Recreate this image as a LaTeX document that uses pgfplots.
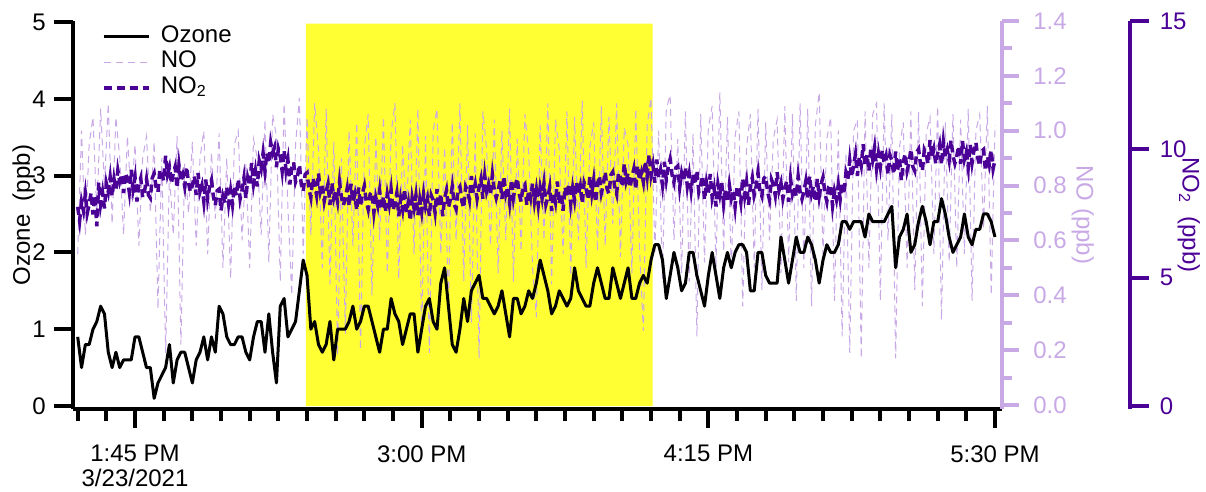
\documentclass[border=0pt]{standalone}
\usepackage{fontspec}
\setmainfont{Liberation Sans}
\usepackage{pgfplots}
\pgfplotsset{compat=1.18}
\usepackage{pgfplotstable}
\definecolor{nocol}{HTML}{C8A9E6}
\definecolor{notwo}{HTML}{4B0096}
\definecolor{hl}{HTML}{FFFF33}

\pgfplotstableread[row sep=\\]{
v\\
0.9\\0.5\\0.8\\0.8\\1.0\\1.1\\1.3\\1.2\\0.7\\0.5\\
0.7\\0.5\\0.6\\0.6\\0.6\\0.9\\0.9\\0.7\\0.5\\0.5\\
0.1\\0.3\\0.4\\0.5\\0.8\\0.3\\0.6\\0.7\\0.7\\0.5\\
0.3\\0.6\\0.7\\0.9\\0.6\\0.9\\0.7\\1.3\\1.2\\0.9\\
0.8\\0.8\\0.9\\0.9\\0.7\\0.6\\0.9\\1.1\\1.1\\0.7\\
1.2\\0.7\\0.3\\1.3\\1.4\\0.9\\1.0\\1.1\\1.5\\1.9\\
1.7\\1.0\\1.1\\0.8\\0.7\\0.8\\1.1\\0.6\\1.0\\1.0\\
1.0\\1.1\\1.3\\1.0\\1.1\\1.3\\1.3\\1.1\\0.9\\0.7\\
1.0\\1.0\\1.4\\1.2\\1.1\\0.8\\1.0\\1.2\\1.2\\0.7\\
1.0\\1.3\\1.4\\1.1\\1.0\\1.6\\1.8\\1.3\\0.8\\0.7\\
1.0\\1.4\\1.1\\1.5\\1.6\\1.7\\1.4\\1.4\\1.3\\1.2\\
1.3\\1.5\\1.2\\0.9\\1.4\\1.4\\1.2\\1.3\\1.5\\1.4\\
1.6\\1.9\\1.7\\1.5\\1.2\\1.3\\1.5\\1.4\\1.3\\1.4\\
1.8\\1.5\\1.4\\1.3\\1.3\\1.6\\1.8\\1.6\\1.4\\1.4\\
1.8\\1.6\\1.4\\1.6\\1.8\\1.4\\1.4\\1.6\\1.7\\1.6\\
1.9\\2.1\\2.1\\1.9\\1.4\\1.7\\2.0\\1.8\\1.5\\1.6\\
2.0\\2.0\\1.7\\1.5\\1.3\\1.7\\2.0\\1.7\\1.4\\1.8\\
2.0\\1.8\\2.0\\2.1\\2.1\\2.0\\1.5\\1.5\\2.0\\2.0\\
1.7\\1.6\\1.6\\1.6\\2.2\\1.9\\1.6\\1.9\\2.2\\2.0\\
2.0\\2.2\\2.1\\1.9\\1.6\\1.9\\2.1\\2.0\\2.0\\2.1\\
2.4\\2.4\\2.3\\2.4\\2.4\\2.4\\2.2\\2.5\\2.4\\2.4\\
2.4\\2.4\\2.5\\2.6\\1.8\\2.2\\2.3\\2.5\\2.0\\2.1\\
2.4\\2.6\\2.4\\2.1\\2.4\\2.4\\2.7\\2.5\\2.2\\2.0\\
2.1\\2.2\\2.5\\2.2\\2.1\\2.3\\2.3\\2.5\\2.5\\2.4\\
2.2\\
}\oztab

\pgfplotstableread[row sep=\\]{
v\\
0.55\\1.0\\0.62\\0.95\\1.05\\0.7\\1.08\\0.8\\1.1\\0.66\\
1.05\\0.9\\0.62\\0.98\\0.75\\0.95\\0.58\\0.9\\0.98\\0.7\\
0.96\\0.35\\0.9\\0.19\\0.85\\0.62\\0.98\\0.22\\0.88\\0.7\\
0.96\\0.58\\0.9\\1.0\\0.55\\0.92\\0.68\\0.99\\0.5\\0.9\\
0.46\\0.95\\1.0\\0.6\\0.88\\0.5\\0.97\\0.9\\0.62\\1.04\\
0.52\\1.06\\0.98\\0.45\\1.1\\0.72\\0.4\\0.95\\1.12\\0.55\\
1.05\\0.62\\1.1\\0.93\\0.5\\1.08\\0.44\\0.96\\0.18\\0.9\\
0.26\\1.0\\0.58\\1.03\\0.2\\0.94\\1.06\\0.4\\0.98\\0.6\\
1.05\\0.48\\0.99\\1.1\\0.46\\0.95\\0.7\\1.04\\0.55\\1.08\\
0.25\\0.98\\0.19\\1.0\\1.08\\0.55\\0.94\\0.35\\1.03\\0.6\\
1.1\\0.45\\1.02\\0.3\\0.99\\0.17\\1.07\\0.93\\0.58\\1.04\\
0.48\\1.0\\0.6\\1.08\\0.45\\0.97\\0.56\\1.06\\0.92\\0.5\\
0.32\\1.02\\0.6\\1.1\\0.44\\1.04\\0.93\\0.55\\1.07\\0.47\\
1.05\\0.6\\1.11\\0.5\\0.94\\1.03\\0.56\\1.09\\0.58\\1.05\\
0.66\\1.1\\0.54\\1.01\\0.95\\0.48\\1.08\\0.57\\0.27\\1.02\\
1.12\\0.55\\1.0\\0.46\\1.08\\1.13\\0.6\\0.97\\0.48\\1.07\\
0.45\\0.99\\0.25\\1.06\\0.52\\1.01\\1.09\\0.5\\1.14\\0.56\\
1.05\\0.49\\0.98\\1.07\\0.36\\0.94\\1.06\\0.5\\1.08\\0.42\\
1.03\\0.6\\0.97\\1.04\\0.48\\1.09\\0.52\\1.06\\0.38\\1.1\\
0.5\\1.08\\0.36\\1.02\\1.14\\0.55\\0.97\\1.05\\0.38\\1.0\\
0.25\\0.92\\0.19\\1.0\\1.04\\0.17\\1.07\\0.5\\1.06\\1.1\\
0.38\\1.1\\0.6\\1.06\\0.17\\0.94\\1.03\\0.5\\1.07\\0.42\\
1.07\\0.36\\0.99\\1.05\\0.55\\1.09\\0.31\\1.03\\0.52\\1.06\\
0.5\\1.04\\0.55\\1.08\\0.38\\1.0\\1.06\\0.64\\1.09\\0.4\\
1.02\\
}\notab

\pgfplotstableread[row sep=\\]{
v\\
7.76\\7.21\\7.96\\7.61\\8.26\\7.51\\7.86\\8.31\\7.46\\8.21\\7.0\\8.71\\7.86\\8.33\\7.7\\8.67\\8.34\\8.91\\8.17\\8.84\\
8.41\\9.18\\8.75\\9.03\\8.3\\9.08\\8.85\\8.33\\9.2\\8.46\\8.91\\7.97\\8.62\\8.88\\8.13\\8.39\\8.84\\8.22\\8.1\\8.88\\
9.06\\8.54\\8.33\\9.21\\9.09\\8.77\\9.75\\9.02\\9.3\\8.67\\9.05\\9.32\\8.49\\9.37\\8.74\\9.0\\8.56\\9.32\\8.68\\8.34\\
8.6\\8.96\\8.22\\9.08\\8.34\\8.6\\7.96\\8.82\\8.08\\8.54\\8.8\\8.16\\7.82\\8.39\\8.45\\7.61\\8.17\\7.9\\8.54\\7.87\\
8.4\\7.84\\8.57\\8.2\\8.84\\8.07\\8.4\\8.89\\8.09\\8.88\\8.58\\9.47\\8.66\\9.16\\8.55\\9.55\\9.25\\9.85\\9.16\\9.86\\
9.46\\10.26\\9.86\\10.08\\9.3\\10.01\\9.73\\9.15\\9.97\\9.18\\9.6\\8.63\\9.27\\9.5\\8.73\\8.96\\9.4\\8.63\\8.36\\9.02\\
9.09\\8.45\\8.12\\8.88\\8.64\\8.21\\9.07\\8.34\\8.6\\7.98\\8.37\\8.65\\7.83\\8.71\\8.1\\8.38\\7.96\\8.74\\8.13\\7.81\\
8.09\\8.48\\7.77\\8.66\\7.95\\8.24\\7.62\\8.51\\7.8\\8.29\\8.58\\7.97\\7.66\\8.25\\8.34\\7.53\\8.12\\7.8\\8.39\\7.68\\
8.17\\7.56\\8.25\\7.84\\8.43\\7.62\\7.91\\8.3\\7.39\\8.08\\7.66\\8.45\\7.54\\7.93\\7.22\\8.11\\7.7\\8.21\\7.43\\8.04\\
7.55\\8.26\\7.77\\8.09\\7.4\\8.21\\8.02\\7.54\\8.45\\7.76\\8.27\\7.39\\8.1\\8.41\\7.72\\8.04\\8.55\\7.86\\7.67\\8.41\\
8.54\\7.98\\7.72\\8.55\\8.39\\8.03\\8.96\\8.3\\8.64\\8.07\\8.51\\8.84\\8.08\\8.97\\8.36\\8.65\\8.24\\9.02\\8.41\\8.1\\
8.39\\8.78\\8.07\\8.96\\8.25\\8.54\\7.93\\8.82\\8.11\\8.59\\8.88\\8.27\\7.96\\8.55\\8.64\\7.82\\8.41\\8.09\\8.67\\7.95\\
8.44\\7.82\\8.5\\8.09\\8.67\\7.85\\8.13\\8.52\\7.6\\8.32\\7.94\\8.75\\7.87\\8.29\\7.61\\8.53\\8.14\\8.66\\7.88\\8.5\\
8.02\\8.73\\8.25\\8.57\\7.89\\8.71\\8.52\\8.04\\8.96\\8.28\\8.8\\7.93\\8.65\\8.97\\8.29\\8.61\\9.13\\8.46\\8.28\\9.0\\
9.12\\8.54\\8.26\\9.09\\8.91\\8.53\\9.45\\8.77\\9.08\\8.5\\8.92\\9.24\\8.45\\9.37\\8.79\\9.1\\8.72\\9.54\\8.96\\9.8\\
8.99\\9.39\\8.7\\9.6\\8.9\\9.2\\8.61\\9.51\\8.81\\9.31\\9.62\\9.02\\8.72\\9.28\\9.35\\8.51\\9.07\\8.74\\9.3\\8.56\\
9.03\\8.39\\9.05\\8.62\\9.18\\8.34\\8.61\\8.97\\8.03\\8.7\\8.26\\9.04\\8.12\\8.49\\7.77\\8.65\\8.23\\8.7\\7.88\\8.46\\
7.94\\8.61\\8.09\\8.42\\7.75\\8.57\\8.4\\7.93\\8.86\\8.19\\8.71\\7.84\\8.57\\8.9\\8.22\\8.55\\9.08\\8.37\\8.17\\8.86\\
8.95\\8.34\\8.04\\8.83\\8.62\\8.21\\9.11\\8.4\\8.69\\8.08\\8.47\\8.77\\7.96\\8.86\\8.26\\8.56\\8.16\\8.96\\8.36\\8.06\\
8.36\\8.76\\8.06\\8.96\\8.26\\8.56\\7.96\\8.86\\8.16\\8.64\\8.91\\8.29\\7.96\\8.54\\8.62\\7.79\\8.37\\8.04\\8.62\\8.06\\
8.71\\8.25\\9.09\\8.83\\9.58\\8.92\\9.36\\9.81\\8.96\\9.71\\9.36\\10.2\\9.35\\9.8\\9.15\\10.03\\9.6\\10.08\\9.25\\9.83\\
9.31\\9.98\\9.46\\9.73\\9.01\\9.78\\9.56\\9.03\\9.91\\9.18\\9.66\\8.78\\9.51\\9.83\\9.16\\9.48\\10.01\\9.33\\9.16\\9.88\\
10.01\\9.43\\9.16\\9.98\\9.81\\9.43\\10.36\\9.68\\10.0\\9.43\\9.85\\10.18\\9.4\\10.29\\9.69\\9.98\\9.57\\10.36\\9.76\\9.45\\
9.74\\10.13\\9.43\\10.32\\9.61\\9.9\\9.3\\10.19\\9.48\\9.97\\10.27\\9.66\\9.35\\9.92\\9.99\\9.16\\9.73\\9.4\\9.97\\9.24\\
9.6\\
}\notwotab

\pgfplotsset{
  base/.style={scale only axis, width=464.5pt, height=194pt, xmin=-1.23, xmax=241.83},
  /pgf/number format/assume math mode=true,
}

\begin{document}
\fontsize{12pt}{12.5pt}\selectfont
\begin{tikzpicture}
\useasboundingbox (-36.5pt,-41.5pt) rectangle (566.5pt,204.5pt);

% main frame: x axis, ozone axis, highlight
\begin{axis}[base, ymin=-0.039, ymax=5.013,
  axis x line*=bottom, axis y line*=left,
  axis line style={line width=2pt, black, -},
  tick align=outside,
  xtick={15,90,165,240},
  xticklabels={{1:45 PM\\3/23/2021},{3:00 PM},{4:15 PM},{5:30 PM}},
  xticklabel style={align=center, yshift=-4.5pt},
  minor xtick={0,7.5,...,240},
  ytick={0,1,2,3,4,5},
  major tick length=9.5pt, minor tick length=6pt,
  tick style={line width=2pt, black},
  ylabel={Ozone~~(ppb)},
  ylabel style={at={(axis description cs:-0.053,0.5)}, anchor=center},
]
\addplot[fill=hl, draw=none] coordinates {(59.7,0) (150.4,0) (150.4,4.98) (59.7,4.98) (59.7,0)};
\end{axis}

% NO
\begin{axis}[base, ymin=-0.0146, ymax=1.4,
  hide x axis, axis y line*=right,
  axis line style={line width=2pt, nocol, -},
  tick align=outside,
  ytick={0,0.2,0.4,0.6,0.8,1.0,1.2,1.4},
  minor ytick={0.1,0.3,0.5,0.7,0.9,1.1,1.3},
  major tick length=8.5pt, minor tick length=5pt,
  tick style={line width=2pt, nocol},
  yticklabel style={color=nocol, xshift=3pt, /pgf/number format/.cd, fixed, fixed zerofill, precision=1},
  ylabel={NO (ppb)},
  ylabel style={color=nocol, rotate=180, at={(axis description cs:1.087,0.5)}, anchor=center},
]
\addplot[nocol, line width=0.5pt, dash pattern=on 3.5pt off 2.5pt] table[x expr=\coordindex, y=v] {\notab};
\end{axis}

% NO2 data
\begin{axis}[base, ymin=-0.117, ymax=15, hide axis]
\addplot[notwo, line width=1.75pt, dash pattern=on 4pt off 2.5pt] table[x expr=\coordindex*0.5, y=v] {\notwotab};
\end{axis}

% Ozone data + legend
\begin{axis}[base, ymin=-0.039, ymax=5.013, hide axis,
  legend style={at={(axis description cs:0,1)}, anchor=north west, xshift=14.25pt, yshift=-2pt,
    draw=none, fill=none, inner sep=0pt, row sep=1.25pt, column sep=2.5pt,
    nodes={inner xsep=2.75pt, inner ysep=0pt, text height=8.5pt, text depth=3pt}},
  legend cell align=left,
  legend image code/.code={\draw[#1] (0pt,0pt) -- (22.5pt,0pt);},
]
\addplot[black, line width=1.5pt, line join=round] table[x expr=\coordindex, y=v] {\oztab};
\addlegendentry{Ozone}
\addlegendimage{nocol, line width=0.5pt, dash pattern=on 3.5pt off 2.5pt}
\addlegendentry{NO}
\addlegendimage{notwo, line width=1.75pt, dash pattern=on 4pt off 2.5pt}
\addlegendentry{NO\textsubscript{2}}
\end{axis}

% NO2 scale
\begin{axis}[base, at={(63.75pt,0pt)}, ymin=-0.117, ymax=15,
  hide x axis, axis y line*=right,
  axis line style={line width=2pt, notwo, -},
  tick align=outside,
  ytick={0,5,10,15},
  major tick length=9.5pt,
  tick style={line width=2pt, notwo},
  yticklabel style={color=notwo, xshift=1.5pt},
  ylabel={NO\textsubscript{2}~~(ppb)},
  ylabel style={color=notwo, rotate=180, at={(axis description cs:1.064,0.5)}, anchor=center},
]
\addplot[draw=none] coordinates {(0,0)};
\end{axis}
\end{tikzpicture}
\end{document}
